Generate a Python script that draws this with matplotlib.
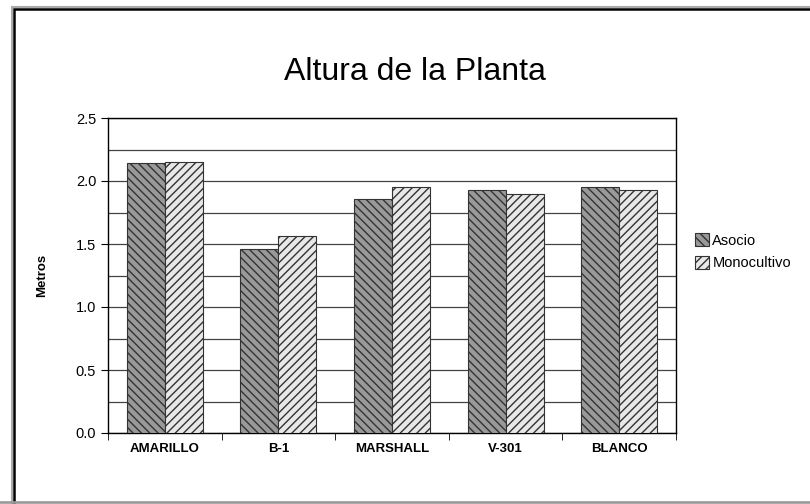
import numpy as np
import matplotlib.pyplot as plt
from matplotlib.patches import Rectangle

plt.rcParams.update({
    "font.family": ["Liberation Sans", "DejaVu Sans"],
    "hatch.linewidth": 1.0,
    "hatch.color": "black",
})

categories = ["AMARILLO", "B-1", "MARSHALL", "V-301", "BLANCO"]
asocio = [2.14, 1.46, 1.86, 1.93, 1.95]
monocultivo = [2.15, 1.56, 1.95, 1.90, 1.93]
y_ticks = [0.0, 0.5, 1.0, 1.5, 2.0, 2.5]

fig = plt.figure(figsize=(8.1, 5.04), dpi=100)
ax = fig.add_axes([108 / 810, 1 - 433 / 504, 568 / 810, 315 / 504])

x = np.arange(len(categories))
w = 0.335

ax.bar(x - w / 2, asocio, w, color="#999999", edgecolor="#333333",
       hatch="\\\\\\\\", linewidth=0.8, label="Asocio", zorder=3)
ax.bar(x + w / 2, monocultivo, w, color="#e8e8e8", edgecolor="#333333",
       hatch="////", linewidth=0.8, label="Monocultivo", zorder=3)

ax.set_xlim(-0.5, len(categories) - 0.5)
ax.set_ylim(0, 2.5)
ax.set_yticks(y_ticks)
ax.set_yticklabels([f"{v:.1f}" for v in y_ticks], fontsize=10.5)
ax.set_yticks(np.arange(0, 2.51, 0.25), minor=True)
ax.yaxis.grid(True, which="both", color="#444444", linewidth=0.9, zorder=0)
ax.tick_params(axis="y", which="minor", length=0)
ax.tick_params(axis="y", which="major", length=5, direction="out")

ax.set_xticks(np.arange(-0.5, len(categories), 1.0), minor=True)
ax.set_xticks(x)
ax.set_xticklabels(categories, fontsize=9.5, fontweight="bold")
ax.tick_params(axis="x", which="major", length=0, pad=7)
ax.tick_params(axis="x", which="minor", length=5, direction="out")

for s in ax.spines.values():
    s.set_color("black")
    s.set_linewidth(1.0)

ax.set_ylabel("Metros", fontsize=9.5, fontweight="bold", labelpad=20)

fig.text(415 / 810, 1 - 72 / 504, "Altura de la Planta", ha="center",
         va="center", fontsize=23)

ax.legend(loc="center left", bbox_to_anchor=(1.01, 0.575), frameon=False,
          fontsize=10.5, handlelength=1.0, handleheight=1.0,
          handletextpad=0.2, labelspacing=0.55)

# outer chart frame, running off the right and bottom edges
fig.patches.append(Rectangle((12 / 810, -10 / 504), 810 / 810, 507 / 504,
                             transform=fig.transFigure, fill=False,
                             edgecolor="#aaaaaa", linewidth=1.5))
fig.patches.append(Rectangle((14 / 810, -10 / 504), 810 / 810, 505 / 504,
                             transform=fig.transFigure, fill=False,
                             edgecolor="black", linewidth=1.8))
fig.patches.append(Rectangle((0, 1 / 504), 1, 0.001,
                             transform=fig.transFigure, fill=False,
                             edgecolor="#999999", linewidth=1.2))

fig.savefig("out.png", dpi=100)
